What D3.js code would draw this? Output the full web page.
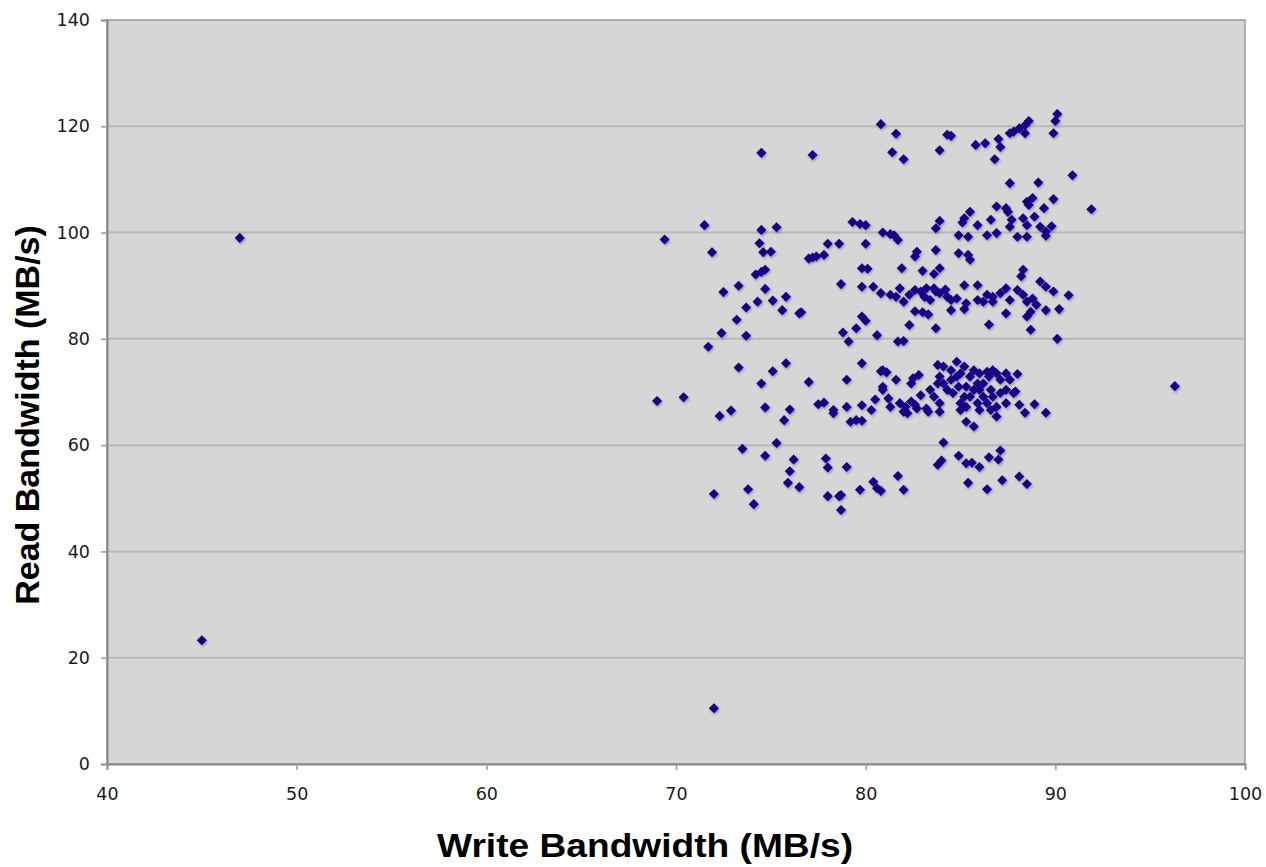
<!DOCTYPE html>
<html>
<head>
<meta charset="utf-8">
<script src="https://cdn.jsdelivr.net/npm/d3@7"></script>
<style>
  body { margin: 0; background: #fff; }
  .tick-label { font-family: "DejaVu Sans", Verdana, sans-serif; font-size: 17.5px; fill: #1a1a1a; }
  .axis-title { font-family: "Liberation Sans", Arial, sans-serif; font-weight: bold; font-size: 34px; fill: #000; }
</style>
</head>
<body>
<script>
// write / read bandwidth pairs (MB/s)
var writeBw = [
  45.0, 47.0, 72.0, 96.3,
  80.8, 81.6, 81.4, 74.5, 77.2, 71.5, 74.5, 75.3, 79.3, 79.7, 80.0, 80.9, 81.3, 81.5, 74.4, 78.0, 78.6, 80.0,
  82.0, 84.3, 84.5, 83.9, 85.8, 86.3, 87.0, 87.1, 86.8, 87.6, 87.8, 88.1, 88.4, 88.6, 88.4, 90.1, 90.0, 89.9,
  90.9, 87.6, 89.1, 89.9, 91.9, 88.8, 88.5, 88.6, 89.4, 86.9, 87.4, 87.5, 85.5, 85.2, 85.1, 83.9, 83.7, 85.9,
  86.6, 87.7, 87.6, 88.3, 88.5, 88.9, 89.8, 89.5, 89.2, 84.9, 85.4, 86.4, 86.9, 81.7, 88.0, 88.5, 89.5,
  71.9, 74.6, 75.0, 74.2, 74.5, 74.7, 73.3, 72.5, 74.7, 74.3, 75.1, 75.8, 73.7, 75.6, 76.5, 76.6, 73.2, 72.4,
  73.7, 71.7, 73.3, 75.1, 75.8, 77.0, 77.2, 77.4, 77.8, 79.8, 80.1, 78.7, 79.8, 80.4, 80.8, 81.3, 81.6, 78.8,
  79.1, 79.5, 79.8, 80.0, 80.6, 79.8, 80.8, 81.1, 81.7,
  82.7, 82.6, 83.7, 84.9, 85.4, 85.5, 81.9, 83.0, 83.6, 83.9, 88.3, 88.2, 89.2, 89.5, 89.9, 90.7,
  81.8, 82.0, 82.3, 82.9, 83.2, 83.6, 83.9, 84.3, 84.8, 85.2, 85.9, 85.3, 85.9, 86.4, 86.7, 87.1, 87.4, 87.6,
  88.0, 88.3, 88.5, 88.8, 89.0, 82.6, 83.1, 83.7, 84.2, 84.5, 83.4,
  82.6, 83.0, 83.3, 84.5, 87.4, 88.5, 88.7, 89.5, 90.2, 82.3, 83.7, 86.5, 88.7, 82.0, 90.1, 85.2, 86.2, 86.7,
  89.5, 88.9, 88.4, 88.0, 87.6, 87.9, 86.9, 85.7, 85.3, 81.6, 81.3, 82.0, 81.8, 82.4, 82.6, 83.3, 83.9, 82.4,
  82.8, 82.9, 84.1, 84.9, 83.8, 84.0, 85.3, 85.6, 86.0, 86.5, 87.1, 87.0, 81.7, 82.0, 85.4, 86.4, 87.2, 88.1, 88.5,
  79.0, 80.9, 80.9, 80.9, 82.5, 79.0, 79.8, 80.3, 80.5, 81.2, 79.2, 79.5, 79.8, 82.1, 82.2, 82.7, 83.2,
  83.4, 83.8, 83.9, 84.1, 83.8, 84.8, 85.2, 84.5, 84.3, 84.6, 84.9, 85.2, 85.5, 85.7, 86.0, 86.4, 86.7, 86.9,
  87.1, 87.4, 87.8, 86.6, 86.2, 85.9, 85.3, 85.0, 85.7, 86.2, 86.7, 86.9, 87.4, 88.1, 86.5, 85.9, 84.8, 84.5,
  85.3, 86.0, 86.4, 85.5, 85.0, 86.0, 86.6, 87.1, 87.4, 85.0, 84.1, 83.6, 83.9,
  79.0, 79.7, 80.4, 80.6, 80.8, 78.7, 78.7,
  74.5, 77.0, 72.3, 72.9, 74.7, 76.0, 75.7, 77.5, 77.8, 78.3, 78.3, 73.5, 75.3, 74.7, 76.2, 76.0, 75.9, 76.5,
  77.9, 78.0, 73.8, 74.1, 72.0, 78.0, 78.6,
  69.0, 70.4, 69.4
];
var readBw = [
  23.3, 99.0, 10.5, 71.1,
  120.4, 118.6, 115.1, 115.0, 114.6, 101.4, 100.5, 101.0, 102.0, 101.6, 101.4, 100.0, 99.7, 99.5, 98.0, 97.9, 97.9, 97.9,
  113.8, 118.4, 118.2, 115.5, 116.5, 116.8, 117.6, 116.1, 113.8, 118.7, 119.0, 119.6, 120.2, 121.0, 118.7, 122.3, 121.0, 118.7,
  110.8, 109.3, 109.4, 106.3, 104.4, 106.5, 105.8, 105.2, 104.6, 104.9, 104.6, 103.9, 103.9, 102.7, 101.9, 102.2, 100.8, 101.4,
  102.4, 102.4, 101.1, 102.7, 101.4, 103.0, 101.2, 100.2, 101.1, 99.5, 99.2, 99.5, 99.9, 98.6, 99.2, 99.2, 99.4,
  96.3, 96.3, 96.4, 92.1, 92.6, 93.0, 90.0, 88.8, 89.4, 87.0, 87.2, 87.9, 85.9, 85.4, 84.8, 85.0, 83.6, 81.1,
  80.6, 78.5, 74.6, 73.9, 75.4, 95.1, 95.3, 95.5, 95.8, 93.3, 93.2, 90.3, 89.8, 89.8, 88.6, 88.3, 87.9, 81.2,
  79.5, 82.0, 84.2, 83.4, 80.7, 75.4, 73.9, 73.7, 79.5,
  96.4, 95.5, 96.7, 96.1, 95.8, 94.9, 93.3, 92.8, 92.2, 93.3, 93.0, 91.8, 90.8, 89.8, 88.9, 88.2,
  89.5, 87.0, 88.3, 88.9, 89.5, 89.5, 88.6, 87.9, 87.6, 90.1, 90.1, 86.7, 87.3, 88.3, 87.9, 88.6, 89.5, 87.3,
  89.2, 88.3, 87.0, 87.6, 86.4, 89.2, 87.9, 88.9, 89.3, 87.3, 87.3,
  85.2, 85.0, 84.6, 85.4, 84.8, 84.2, 85.1, 85.4, 85.6, 82.6, 82.0, 82.7, 81.7, 79.6, 80.0, 85.6, 87.0, 87.0,
  66.1, 67.7, 66.1, 73.4, 72.3, 70.1, 65.4, 63.5, 64.4, 72.3, 67.2, 66.3, 67.9, 68.2, 67.6, 66.3, 66.3, 71.6,
  73.2, 69.4, 60.5, 58.0, 56.3, 57.1, 56.6, 56.7, 55.9, 57.7, 59.0, 57.3, 54.2, 51.6, 52.9, 51.7, 53.4, 54.1, 52.7,
  72.3, 74.1, 71.0, 70.4, 72.6, 67.2, 67.5, 66.6, 68.6, 68.8, 64.4, 64.7, 64.6, 67.2, 66.0, 66.9, 66.9,
  70.4, 71.6, 72.9, 74.8, 75.1, 75.7, 74.8, 72.3, 70.4, 69.8, 71.0, 69.1, 72.9, 74.1, 73.5, 73.8, 74.1, 73.5,
  72.3, 70.4, 69.8, 70.4, 69.1, 67.9, 67.2, 67.9, 70.4, 71.6, 69.1, 67.2, 67.9, 67.6, 72.9, 71.6, 72.9, 74.1,
  71.0, 70.4, 67.9, 69.1, 66.6, 66.6, 66.6, 69.8, 73.5, 73.5, 71.6, 69.1, 67.9,
  55.9, 51.6, 53.1, 51.9, 51.4, 50.6, 47.8,
  71.6, 71.9, 65.5, 66.5, 67.1, 66.7, 64.7, 67.7, 68.0, 66.6, 66.0, 59.3, 60.4, 58.0, 57.3, 55.1, 52.9, 52.1,
  57.5, 55.8, 51.7, 48.9, 50.8, 50.4, 50.4,
  68.3, 69.0, 98.7
];
var xTicks = [40, 50, 60, 70, 80, 90, 100];
var yTicks = [0, 20, 40, 60, 80, 100, 120, 140];

var W = 1266, H = 867;
var plot = {left: 107, right: 1245, top: 20, bottom: 764};

var x = d3.scaleLinear().domain([40, 100]).range([plot.left, plot.right]);
var y = d3.scaleLinear().domain([0, 140]).range([plot.bottom, plot.top]);

var svg = d3.select("body").append("svg")
    .attr("width", W)
    .attr("height", H);

// soft shadow under the markers
var defs = svg.append("defs");
var f = defs.append("filter").attr("id", "shadow")
    .attr("x", "-50%").attr("y", "-50%").attr("width", "200%").attr("height", "200%");
f.append("feDropShadow")
    .attr("dx", 1).attr("dy", 1.5).attr("stdDeviation", 1.1)
    .attr("flood-color", "#000").attr("flood-opacity", 0.3);

// plot area
svg.append("rect")
    .attr("x", plot.left).attr("y", plot.top)
    .attr("width", plot.right - plot.left).attr("height", plot.bottom - plot.top)
    .attr("fill", "#d6d6d6")
    .attr("stroke", "#9a9a9a").attr("stroke-width", 1.5);

// horizontal gridlines
svg.append("g").selectAll("line")
    .data(yTicks.filter(function (d) { return d > 0 && d < 140; }))
    .enter().append("line")
    .attr("x1", plot.left).attr("x2", plot.right)
    .attr("y1", function (d) { return y(d); })
    .attr("y2", function (d) { return y(d); })
    .attr("stroke", "#b8b8b8").attr("stroke-width", 2);

// axes
var yAxis = d3.axisLeft(y).tickValues(yTicks).tickSize(6).tickPadding(10).tickFormat(d3.format("d"));
var xAxis = d3.axisBottom(x).tickValues(xTicks).tickSize(6).tickPadding(18).tickFormat(d3.format("d"));

var gy = svg.append("g").attr("transform", "translate(" + plot.left + ",0)").call(yAxis);
var gx = svg.append("g").attr("transform", "translate(0," + plot.bottom + ")").call(xAxis);

[gx, gy].forEach(function (g) {
    g.select(".domain").attr("stroke", "#888").attr("stroke-width", 2);
    g.selectAll(".tick line").attr("stroke", "#999").attr("stroke-width", 1.5);
    g.selectAll(".tick text").attr("class", "tick-label").attr("fill", null);
    g.attr("font-family", null).attr("font-size", null);
});
gy.selectAll(".tick text").attr("dx", "-1");

// diamond markers (square rotated 45 degrees)
var diamond = {
    draw: function (ctx, size) {
        var r = Math.sqrt(size) / 2 * 1.1;
        ctx.moveTo(0, -r); ctx.lineTo(r, 0); ctx.lineTo(0, r); ctx.lineTo(-r, 0); ctx.closePath();
    }
};
var sym = d3.symbol().type(diamond).size(84);

var pts = writeBw.map(function (w, i) { return {w: w, r: readBw[i]}; });

svg.append("g").attr("filter", "url(#shadow)")
    .selectAll("path")
    .data(pts)
    .enter().append("path")
    .attr("d", sym)
    .attr("transform", function (d) { return "translate(" + x(d.w) + "," + y(d.r) + ")"; })
    .attr("fill", "#14068a");

// axis titles
svg.append("text")
    .attr("class", "axis-title")
    .attr("text-anchor", "middle")
    .attr("x", 645).attr("y", 857)
    .attr("textLength", 416)
    .attr("lengthAdjust", "spacingAndGlyphs")
    .text("Write Bandwidth (MB/s)");

svg.append("text")
    .attr("class", "axis-title")
    .attr("text-anchor", "middle")
    .attr("transform", "translate(39,415) rotate(-90)")
    .text("Read Bandwidth (MB/s)");
</script>
</body>
</html>
